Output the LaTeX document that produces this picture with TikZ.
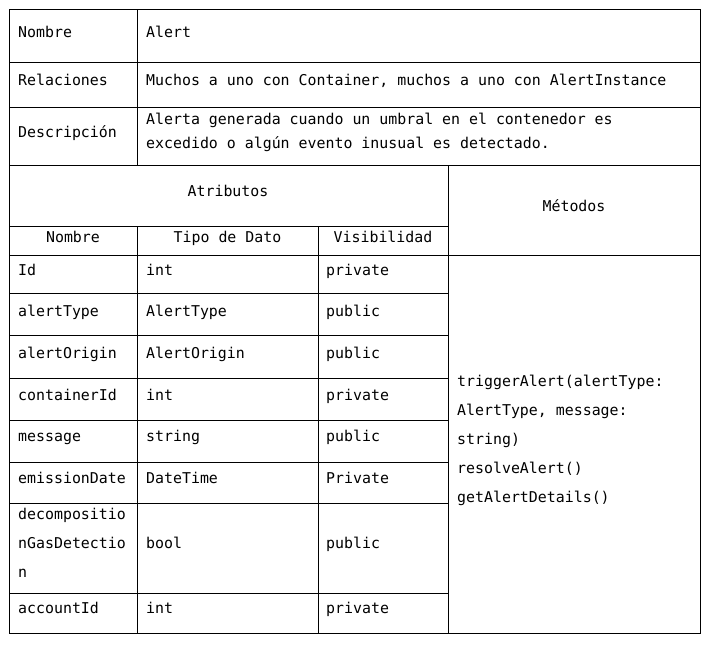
\documentclass[tikz,border=0pt]{standalone}
\usepackage{fontspec}
\setmonofont{DejaVu Sans Mono}

\tikzset{
    cell/.style={anchor=base west, inner sep=0pt, font=\ttfamily\fontsize{14.9}{18}\selectfont},
    head/.style={cell, anchor=base},
    rule/.style={line width=1pt, line cap=rect}
}

\begin{document}
\begin{tikzpicture}[x=1pt, y=-1pt]
    \useasboundingbox (0,0) rectangle (712,646);
    % table rules
    \draw[rule] (9,9) rectangle (700,633);
    \draw[rule] (9,62) -- (700,62);
    \draw[rule] (9,107) -- (700,107);
    \draw[rule] (9,165) -- (700,165);
    \draw[rule] (9,226) -- (448,226);
    \draw[rule] (9,255) -- (700,255);
    \foreach \y in {293,335,378,420,462,503,593}
        \draw[rule] (9,\y) -- (448,\y);
    \draw[rule] (137,9) -- (137,165);
    \draw[rule] (137,226) -- (137,633);
    \draw[rule] (318,226) -- (318,633);
    \draw[rule] (448,165) -- (448,633);
    % header
    \node[cell] (nombre) at (18,37) {Nombre};
    \node[cell] (alert) at (146,37) {Alert};
    \node[cell] (relaciones) at (18,85) {Relaciones};
    \node[cell] (rel) at (146,85) {Muchos a uno con Container, muchos a uno con AlertInstance};
    \node[cell] (descripcion) at (18,137) {Descripción};
    \node[cell] (desc1) at (146,124) {Alerta generada cuando un umbral en el contenedor es};
    \node[cell] (desc2) at (146,148) {excedido o algún evento inusual es detectado.};
    \node[head] (atributos) at (228,196) {Atributos};
    \node[head] (metodos) at (574,211) {Métodos};
    \node[head] (hnombre) at (73,242) {Nombre};
    \node[head] (htipo) at (227.5,242) {Tipo de Dato};
    \node[head] (hvis) at (383,242) {Visibilidad};
    % attributes
    \node[cell] (n1) at (18,275) {Id};
    \node[cell] (t1) at (146,275) {int};
    \node[cell] (v1) at (326,275) {private};
    \node[cell] (n2) at (18,316) {alertType};
    \node[cell] (t2) at (146,316) {AlertType};
    \node[cell] (v2) at (326,316) {public};
    \node[cell] (n3) at (18,358) {alertOrigin};
    \node[cell] (t3) at (146,358) {AlertOrigin};
    \node[cell] (v3) at (326,358) {public};
    \node[cell] (n4) at (18,400) {containerId};
    \node[cell] (t4) at (146,400) {int};
    \node[cell] (v4) at (326,400) {private};
    \node[cell] (n5) at (18,441) {message};
    \node[cell] (t5) at (146,441) {string};
    \node[cell] (v5) at (326,441) {public};
    \node[cell] (n6) at (18,483) {emissionDate};
    \node[cell] (t6) at (146,483) {DateTime};
    \node[cell] (v6) at (326,483) {Private};
    \node[cell] (n7a) at (18,519) {decompositio};
    \node[cell] (n7b) at (18,548) {nGasDetectio};
    \node[cell] (n7c) at (18,577) {n};
    \node[cell] (t7) at (146,548) {bool};
    \node[cell] (v7) at (326,548) {public};
    \node[cell] (n8) at (18,613) {accountId};
    \node[cell] (t8) at (146,613) {int};
    \node[cell] (v8) at (326,613) {private};
    % methods
    \node[cell] (m1) at (457,386) {triggerAlert(alertType:};
    \node[cell] (m2) at (457,415) {AlertType, message:};
    \node[cell] (m3) at (457,444) {string)};
    \node[cell] (m4) at (457,473) {resolveAlert()};
    \node[cell] (m5) at (457,502) {getAlertDetails()};
\end{tikzpicture}
\end{document}
